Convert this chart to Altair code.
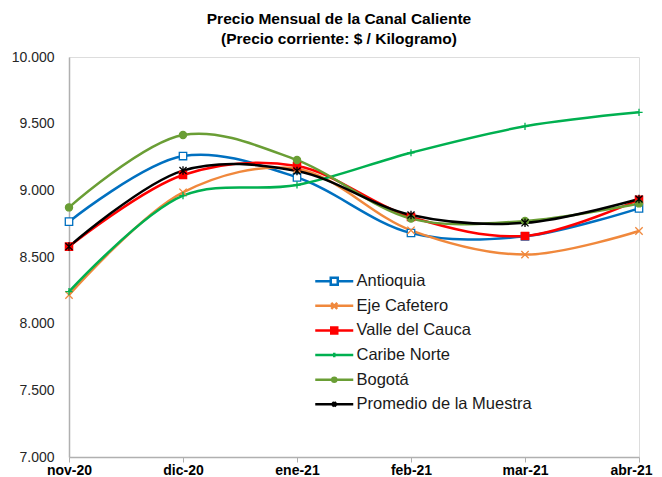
import altair as alt
import pandas as pd

months = ["nov-20", "dic-20", "ene-21", "feb-21", "mar-21", "abr-21"]
series_names = ["Antioquia", "Eje Cafetero", "Valle del Cauca", "Caribe Norte", "Bogotá", "Promedio de la Muestra"]

antioquia = [8765, 9257, 9097, 8680, 8655, 8865]
eje_cafetero = [8215, 8985, 9160, 8700, 8518, 8695]
valle = [8578, 9115, 9182, 8800, 8658, 8930]
caribe = [8240, 8960, 9040, 9282, 9480, 9585]
bogota = [8872, 9415, 9227, 8788, 8770, 8902]
promedio = [8578, 9148, 9145, 8815, 8756, 8935]

values = [antioquia, eje_cafetero, valle, caribe, bogota, promedio]

colors = ["#0070C0", "#F0883C", "#FF0000", "#00B050", "#6A9E35", "#000000"]
fills = ["#FFFFFF", "#F0883C", "#FF0000", "#00B050", "#6A9E35", "#000000"]
line_widths = [2.5, 2.5, 2.5, 2.5, 2.5, 3.5]

rows = []
for name, vals in zip(series_names, values):
    for m, v in zip(months, vals):
        rows.append({"serie": name, "mes": m, "precio": v})
df = pd.DataFrame(rows)

FONT = "Liberation Sans"

plot_shapes = [
    "square",
    "M-1,-1L1,1M-1,1L1,-1",
    "square",
    "M-1,0H1M0,-1V1",
    "circle",
    "M-1,-1L1,1M-1,1L1,-1M0,-1.2V1.2",
]
point_sizes = [55, 50, 50, 40, 22, 36]

legend_shapes = [
    "M-3.8,0H-0.7M0.7,0H3.8M-0.7,-0.7H0.7V0.7H-0.7Z",
    "M-3.8,0H3.8M-0.6,-0.6L0.6,0.6M-0.6,0.6L0.6,-0.6",
    "M-3.8,0H3.8M-0.6,-0.6H0.6V0.6H-0.6Z",
    "M-3.8,0H3.8M0,-0.45V0.45",
    "M-3.8,0H3.8M-0.4,0A0.4,0.4 0 1,0 0.4,0A0.4,0.4 0 1,0 -0.4,0",
    "M-3.8,0H3.8M-0.4,-0.4L0.4,0.4M-0.4,0.4L0.4,-0.4M0,-0.5V0.5",
]

x_enc = alt.X(
    "mes:O",
    sort=months,
    scale=alt.Scale(type="point", padding=0),
    axis=alt.Axis(
        title=None,
        labelAngle=0,
        labelFont=FONT,
        labelFontSize=14,
        labelFontWeight="bold",
        labelColor="#000000",
        labelOffset={"condition": {"test": "datum.label == 'abr-21'", "value": -8}, "value": 0},
        domainColor="#B0B0B0",
        domainWidth=1.5,
        tickColor="#B0B0B0",
        tickSize=5,
        labelPadding=1,
        grid=False,
    ),
)
y_enc = alt.Y(
    "precio:Q",
    scale=alt.Scale(domain=[7000, 10000], nice=False, zero=False),
    axis=alt.Axis(
        title=None,
        values=[7000, 7500, 8000, 8500, 9000, 9500, 10000],
        labelExpr="replace(format(datum.value, ','), ',', '.')",
        labelFont=FONT,
        labelFontSize=14,
        labelColor="#262626",
        domainColor="#B0B0B0",
        domainWidth=1.5,
        ticks=False,
        labelPadding=15,
        grid=False,
    ),
)

lines = alt.Chart(df).mark_line(interpolate="catmull-rom").encode(
    x=x_enc,
    y=y_enc,
    color=alt.Color("serie:N", scale=alt.Scale(domain=series_names, range=colors), legend=None),
    size=alt.Size("serie:N", scale=alt.Scale(domain=series_names, range=line_widths), legend=None),
)

points = alt.Chart(df).mark_point(filled=True, opacity=1, strokeWidth=1.3).encode(
    x=x_enc,
    y=y_enc,
    shape=alt.Shape("serie:N", scale=alt.Scale(domain=series_names, range=plot_shapes), legend=None),
    stroke=alt.Stroke("serie:N", scale=alt.Scale(domain=series_names, range=colors), legend=None),
    fill=alt.Fill("serie:N", scale=alt.Scale(domain=series_names, range=fills), legend=None),
    size=alt.Size("serie:N", scale=alt.Scale(domain=series_names, range=point_sizes), legend=None),
)

legend_def = alt.Legend(
    title=None,
    orient="none",
    legendX=257,
    legendY=216,
    padding=0,
    symbolSize=100,
    symbolStrokeWidth=2.5,
    labelOffset=14,
    rowPadding=7.6,
    labelFont=FONT,
    labelFontSize=16.5,
    labelColor="#1A1A1A",
    labelLimit=400,
)

legend_layer = alt.Chart(df).mark_point(filled=True, opacity=1).encode(
    shape=alt.Shape("serie:N", scale=alt.Scale(domain=series_names, range=legend_shapes), legend=legend_def),
    stroke=alt.Stroke("serie:N", scale=alt.Scale(domain=series_names, range=colors), legend=legend_def),
    fill=alt.Fill("serie:N", scale=alt.Scale(domain=series_names, range=fills), legend=legend_def),
).transform_filter("false")

chart = (
    alt.layer(lines, points, legend_layer)
    .resolve_scale(shape="independent", stroke="independent", fill="independent", size="independent")
    .properties(
        width=570,
        height=400,
        autosize=alt.AutoSizeParams(type="none"),
        padding={"left": 61, "top": 49, "right": 15, "bottom": 20},
        title=alt.TitleParams(
            text=["Precio Mensual de la Canal Caliente", "(Precio corriente: $ / Kilogramo)"],
            font=FONT,
            fontSize=15.5,
            fontWeight="bold",
            color="#000000",
            lineHeight=20,
            anchor="middle",
            dx=-15,
            offset=3,
        ),
    )
    .configure_view(stroke=None)
    .configure(background="white")
)

chart.save("out.html", embed_options={"renderer": "svg", "actions": False})
